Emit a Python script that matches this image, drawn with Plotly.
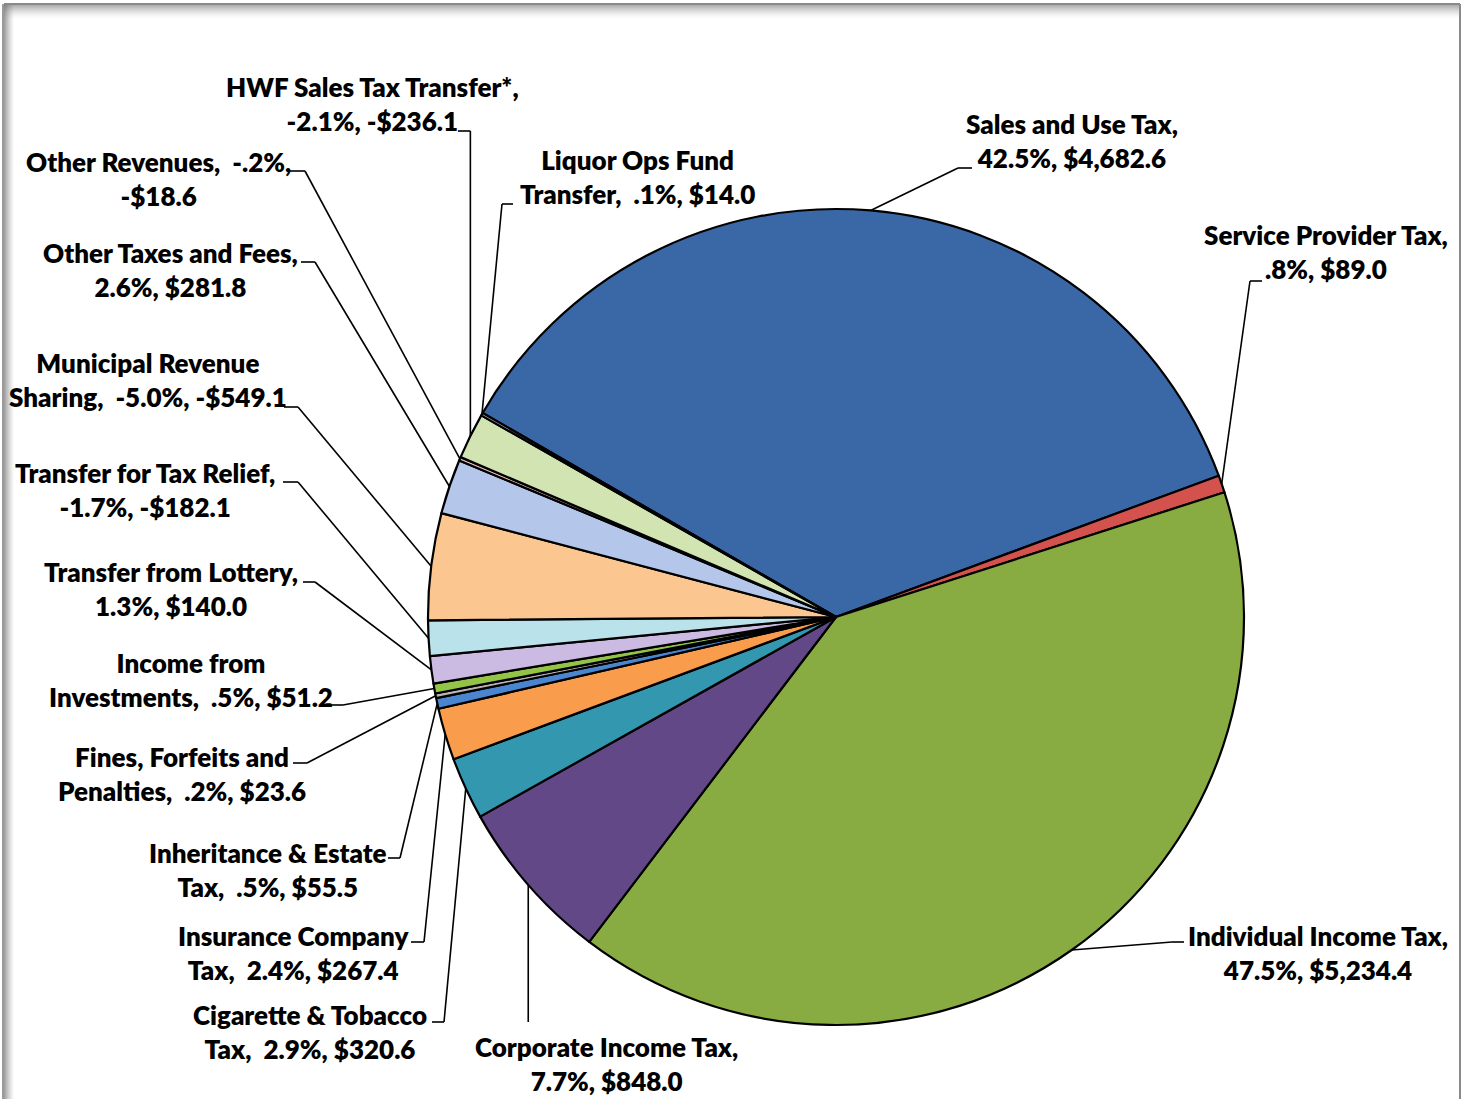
import math
import plotly.graph_objects as go

# ---- data -------------------------------------------------------------
categories = [
    "Sales and Use Tax", "Service Provider Tax", "Individual Income Tax",
    "Corporate Income Tax", "Cigarette & Tobacco Tax", "Insurance Company Tax",
    "Inheritance & Estate Tax", "Fines, Forfeits and Penalties",
    "Income from Investments", "Transfer from Lottery", "Transfer for Tax Relief",
    "Municipal Revenue Sharing", "Other Taxes and Fees", "Other Revenues",
    "HWF Sales Tax Transfer*", "Liquor Ops Fund Transfer",
]
amounts = [4682.6, 89.0, 5234.4, 848.0, 320.6, 267.4, 55.5, 23.6,
           51.2, 140.0, -182.1, -549.1, 281.8, -18.6, -236.1, 14.0]
shares = [42.5, 0.8, 47.5, 7.7, 2.9, 2.4, 0.5, 0.2,
          0.5, 1.3, -1.7, -5.0, 2.6, -0.2, -2.1, 0.1]
# number of words kept on the first line of each label
line1_words = [4, 3, 3, 3, 3, 2, 3, 3, 2, 3, 4, 2, 4, 3, 4, 3]
# labels whose category name is followed by a wider gap
wide_gap = [False, False, False, False, True, True, True, True,
            True, False, False, True, False, True, False, True]

colors = [
    "#3A68A7", "#D4524E", "#89AC42", "#634888", "#3397B0", "#F99C4B",
    "#4A86CF", "#B9B3B3", "#93C447", "#CBBBE2", "#B9E2EB", "#FBC690",
    "#B4C7EA", "#E8BBBA", "#D2E4B2", "#CBC0DD",
]

# ---- geometry ---------------------------------------------------------
W, H = 1466, 1099
CX, CY, R = 836, 617, 408
ROTATION = -60

# label placement: centre x, centre y of the two-line block
label_pos = [
    (1072, 141), (1326, 252), (1318, 953), (606, 1064), (310, 1032),
    (293, 953), (268, 870), (182, 774), (191, 680), (171, 589),
    (145, 490), (148, 380), (170, 270), (158, 179), (372, 104), (637, 177),
]
# leader lines: elbow (x may be None -> same x as slice edge), then end point
leaders = [
    ((958, 168), (972, 168)),
    ((1250, 281), (1262, 281)),
    ((1172, 942), (1184, 942)),
    ((None, 1022), None),
    ((444, 1022), (432, 1022)),
    ((424, 942), (411, 942)),
    ((400, 858), (388, 858)),
    ((307, 763), (293, 763)),
    ((343, 705), (330, 705)),
    ((315, 582), (303, 582)),
    ((298, 482), (283, 482)),
    ((298, 407), (284, 407)),
    ((315, 262), (301, 262)),
    ((305, 171), (290, 171)),
    ((None, 131), (458, 131)),
    ((502, 204), (513, 204)),
]


def px(x):
    return x / W


def py(y):
    return 1 - y / H


def fmt_pct(v):
    s = f"{v:.1f}%"
    if s.startswith("0."):
        s = s[1:]
    elif s.startswith("-0."):
        s = "-" + s[2:]
    return s


def fmt_amt(v):
    s = f"${abs(v):,.1f}"
    return "-" + s if v < 0 else s


def label_text(name, share, amt, n1, wide):
    gap = "&nbsp;" if wide else ""
    words = f"{name},{gap} {fmt_pct(share)}, {fmt_amt(amt)}".split(" ")
    return " ".join(words[:n1]) + "<br>" + " ".join(words[n1:])


sizes = [abs(a) for a in amounts]
total = sum(sizes)

fig = go.Figure()
fig.add_trace(go.Pie(
    labels=categories,
    values=sizes,
    sort=False,
    direction="clockwise",
    rotation=ROTATION,
    textinfo="none",
    hoverinfo="label+value",
    marker=dict(colors=colors, line=dict(color="#000000", width=2.2)),
    domain=dict(x=[px(CX - R), px(CX + R)], y=[py(CY + R), py(CY - R)]),
    showlegend=False,
))

shapes = []
annotations = []
cum = 0.0
for i, name in enumerate(categories):
    mid = (ROTATION % 360) + (cum + sizes[i] / 2) / total * 360
    cum += sizes[i]
    a = math.radians(mid)
    ex, ey = CX + R * math.sin(a), CY - R * math.cos(a)
    elbow, end = leaders[i]
    bx = ex if elbow[0] is None else elbow[0]
    by = elbow[1]
    shapes.append(dict(type="line", xref="paper", yref="paper",
                       x0=px(ex), y0=py(ey), x1=px(bx), y1=py(by),
                       line=dict(color="black", width=1.6)))
    if end is not None:
        shapes.append(dict(type="line", xref="paper", yref="paper",
                           x0=px(bx), y0=py(by), x1=px(end[0]), y1=py(end[1]),
                           line=dict(color="black", width=1.6)))
    lx, ly = label_pos[i]
    annotations.append(dict(
        x=px(lx), y=py(ly), xref="paper", yref="paper",
        xanchor="center", yanchor="middle", align="center",
        text=label_text(name, shares[i], amounts[i], line1_words[i], wide_gap[i]),
        showarrow=False,
        font=dict(family="Lato, Carlito, Arial", size=26, color="#000000",
                  weight=800),
    ))

# chart-area frame with a soft inner shade along the top and left edges
frame = []
for k in range(14):
    alpha = 0.55 * (1 - k / 14) ** 1.6
    frame.append(dict(type="rect", xref="paper", yref="paper", layer="above",
                      x0=px(4), x1=px(1460), y0=py(5 + k), y1=py(6 + k),
                      line=dict(width=0), fillcolor=f"rgba(110,110,110,{alpha:.3f})"))
for k in range(10):
    alpha = 0.65 * (1 - k / 10) ** 1.3
    frame.append(dict(type="rect", xref="paper", yref="paper", layer="above",
                      x0=px(4 + k), x1=px(5 + k), y0=py(H), y1=py(5),
                      line=dict(width=0), fillcolor=f"rgba(110,110,110,{alpha:.3f})"))
frame.append(dict(type="line", xref="paper", yref="paper", layer="above",
                  x0=px(4), x1=px(1460), y0=py(4), y1=py(4),
                  line=dict(color="#8a8a8a", width=2)))
frame.append(dict(type="line", xref="paper", yref="paper", layer="above",
                  x0=px(1460), x1=px(1460), y0=py(4), y1=py(H),
                  line=dict(color="#8a8a8a", width=2)))
frame.append(dict(type="line", xref="paper", yref="paper", layer="above",
                  x0=px(3), x1=px(3), y0=py(4), y1=py(H),
                  line=dict(color="#9a9a9a", width=2)))

fig.update_layout(
    width=W, height=H,
    margin=dict(l=0, r=0, t=0, b=0),
    paper_bgcolor="white",
    plot_bgcolor="white",
    shapes=frame + shapes,
    annotations=annotations,
)

fig.write_html("out.html")
